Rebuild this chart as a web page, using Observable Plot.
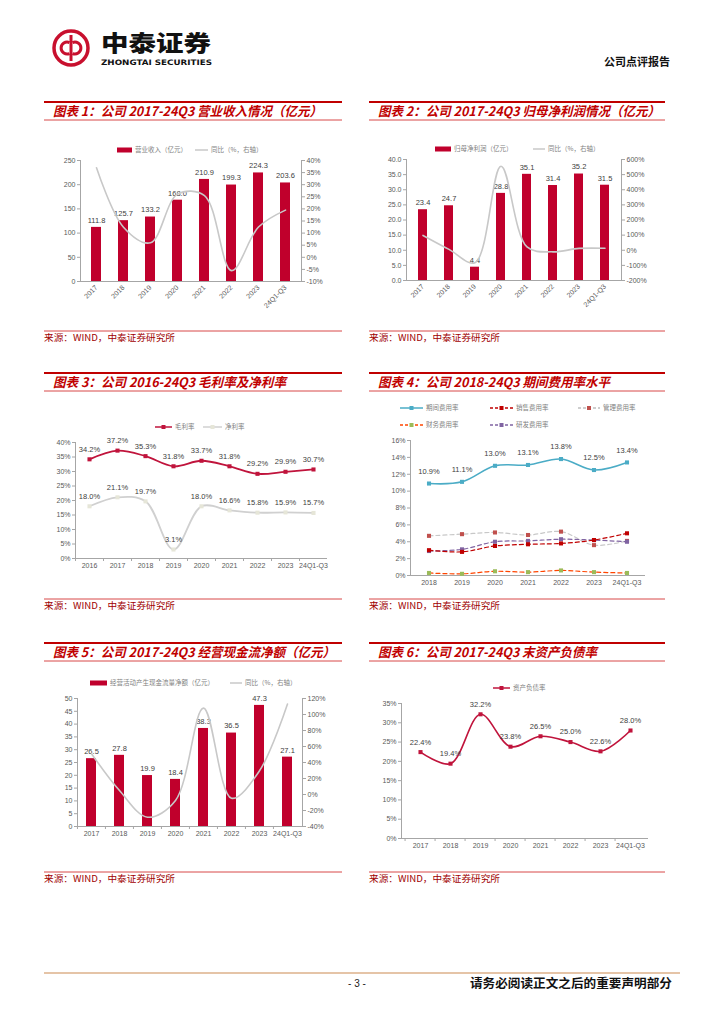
<!DOCTYPE html>
<html><head><meta charset="utf-8">
<script src="https://cdn.jsdelivr.net/npm/d3@7"></script>
<script src="https://cdn.jsdelivr.net/npm/@observablehq/plot@0.6"></script>
<style>
html,body{margin:0;padding:0;background:#fff}
#page{position:relative;width:724px;height:1024px;overflow:hidden;background:#fff}
#page > svg{position:absolute}
</style></head><body><div id="page"></div>
<script>
// ---------------- data ----------------
const years1 = ["2017","2018","2019","2020","2021","2022","2023","24Q1-Q3"];
const revenue = [111.8,125.7,133.2,168.0,210.9,199.3,224.3,203.6];
const revenueYoY = [37,12.4,6.0,26.1,25.5,-5.5,12.5,19.5];
const profit = [23.4,24.7,4.4,28.8,35.1,31.4,35.2,31.5];
const profitYoY = [98,5.6,-82,555,22,-10.5,12.1,13];
const years3 = ["2016","2017","2018","2019","2020","2021","2022","2023","24Q1-Q3"];
const grossMargin = [34.2,37.2,35.3,31.8,33.7,31.8,29.2,29.9,30.7];
const netMargin = [18.0,21.1,19.7,3.1,18.0,16.6,15.8,15.9,15.7];
const years4 = ["2018","2019","2020","2021","2022","2023","24Q1-Q3"];
const periodExp = [10.9,11.1,13.0,13.1,13.8,12.5,13.4];
const salesExp = [3.0,2.8,3.5,3.7,3.8,4.2,5.0];
const adminExp = [4.7,4.9,5.1,4.8,5.2,3.6,4.1];
const finExp = [0.3,0.2,0.5,0.4,0.6,0.4,0.3];
const rdExp = [2.9,3.1,4.0,4.1,4.3,4.2,4.0];
const cashFlow = [26.5,27.8,19.9,18.4,38.3,36.5,47.3,27.1];
const cashFlowYoY = [51,4.9,-28.4,-7.5,108,-4.7,29.6,113];
const debtRatio = [22.4,19.4,32.2,23.8,26.5,25.0,22.6,28.0];

const ticksRevenue = [0,50,100,150,200,250];
const ticksPctRevenue = [-10,-5,0,5,10,15,20,25,30,35,40];
const ticksProfit = [0,5,10,15,20,25,30,35,40];
const ticksPctProfit = [-200,-100,0,100,200,300,400,500,600];
const ticksMargin = [0,5,10,15,20,25,30,35,40];
const ticksExp = [0,2,4,6,8,10,12,14,16];
const ticksCash = [0,5,10,15,20,25,30,35,40,45,50];
const ticksPctCash = [-40,-20,0,20,40,60,80,100,120];
const ticksDebt = [0,5,10,15,20,25,30,35];

// ---------------- styles ----------------
const page = document.getElementById("page");
const CJK = "'Noto Sans CJK SC','Noto Sans',sans-serif";
const FONT = "'Liberation Sans',Arial,sans-serif";
const RED = "#c00000";
const BAR = "#c0002c";
const AX = "#a6a6a6";
const TXT = "#595959";
const LBL = "#404040";

// ---------------- static layer ----------------
const ns = "http://www.w3.org/2000/svg";
const bg = document.createElementNS(ns,"svg");
bg.setAttribute("width",724); bg.setAttribute("height",1024);
bg.style.left="0px"; bg.style.top="0px";
page.appendChild(bg);
function add(tag, attrs, text){
  const e=document.createElementNS(ns,tag);
  for (const k in attrs) e.setAttribute(k, attrs[k]);
  if (text!=null) e.textContent=text;
  bg.appendChild(e); return e;
}
// header logo
add("circle",{cx:71,cy:48,r:17,fill:"none",stroke:"#c8102e","stroke-width":3.5});
add("path",{d:"M71 35 V61",stroke:"#c8102e","stroke-width":3,fill:"none"});
add("path",{d:"M69.5 42.5 A6 6 0 1 0 69.5 53.5",fill:"none",stroke:"#c8102e","stroke-width":3});
add("path",{d:"M72.5 42.5 A6 6 0 1 1 72.5 53.5",fill:"none",stroke:"#c8102e","stroke-width":3});
add("text",{x:101,y:51,"font-family":CJK,"font-size":22,"font-weight":900,textLength:110,lengthAdjust:"spacingAndGlyphs",fill:"#111"},"中泰证券");
add("text",{x:101,y:65,"font-family":"'DejaVu Sans',sans-serif","font-size":7.5,"font-weight":"bold",textLength:111,lengthAdjust:"spacingAndGlyphs",fill:"#111"},"ZHONGTAI SECURITIES");
add("text",{x:670,y:66,"text-anchor":"end","font-family":CJK,"font-size":11,"font-weight":"bold",fill:"#111"},"公司点评报告");

// panel titles and sources
const titles = [
  {x:44,x2:342,y:102,text:"图表 1：公司 2017-24Q3 营业收入情况（亿元）",tl:269,src:331},
  {x:369,x2:665,y:102,text:"图表 2：公司 2017-24Q3 归母净利润情况（亿元）",tl:282,src:331},
  {x:44,x2:342,y:373,text:"图表 3：公司 2016-24Q3 毛利率及净利率",tl:233,src:599},
  {x:369,x2:665,y:373,text:"图表 4：公司 2018-24Q3 期间费用率水平",tl:232,src:599},
  {x:44,x2:342,y:643,text:"图表 5：公司 2017-24Q3 经营现金流净额（亿元）",tl:282,src:872},
  {x:369,x2:665,y:643,text:"图表 6：公司 2017-24Q3 末资产负债率",tl:219,src:872}
];
for (const t of titles){
  add("line",{x1:t.x,x2:t.x2,y1:t.y,y2:t.y,stroke:"#c00000","stroke-width":2});
  add("line",{x1:t.x,x2:t.x2,y1:t.y+18,y2:t.y+18,stroke:"#d84848","stroke-width":1});
  add("text",{x:t.x+9,y:t.y+13.5,"font-family":CJK,"font-size":13,"font-weight":"bold","font-style":"italic",fill:RED,textLength:t.tl,lengthAdjust:"spacingAndGlyphs"},t.text);
  add("line",{x1:t.x,x2:t.x2,y1:t.src,y2:t.src,stroke:"#d84848","stroke-width":1});
  add("text",{x:t.x,y:t.src+9.5,"font-family":CJK,"font-size":9,fill:"#a00000",textLength:131,lengthAdjust:"spacingAndGlyphs"},"来源：WIND，中泰证券研究所");
}
// footer
add("line",{x1:44,x2:680,y1:973,y2:973,stroke:"#dcb08a","stroke-width":1.5});
add("text",{x:357,y:987,"text-anchor":"middle","font-family":FONT,"font-size":10,fill:"#222"},"- 3 -");
add("text",{x:470,y:988,"font-family":CJK,"font-size":12,"font-weight":"bold",fill:"#111",textLength:202,lengthAdjust:"spacingAndGlyphs"},"请务必阅读正文之后的重要声明部分");

// legends
function legendItem({x,y,kind,color,dash,marker,text,len}){
  if (kind==="rect") add("rect",{x:x,y:y-2.5,width:len,height:5,fill:color});
  else {
    add("line",{x1:x,x2:x+len,y1:y,y2:y,stroke:color,"stroke-width":1.5,"stroke-dasharray":dash||"none"});
    if (marker) add("rect",{x:x+len/2-2,y:y-2,width:4,height:4,fill:marker});
  }
  add("text",{x:x+len+3,y:y+2.3,"font-family":CJK,"font-size":6.5,fill:"#7f7f7f"},text);
}
const legends = [
  {x:117,y:150,kind:"rect",color:BAR,len:15,text:"营业收入（亿元）"},
  {x:195,y:150,kind:"line",color:"#c8c8c8",len:13,text:"同比（%，右轴）"},
  {x:435,y:149,kind:"rect",color:BAR,len:16,text:"归母净利润（亿元）"},
  {x:533,y:149,kind:"line",color:"#c8c8c8",len:12,text:"同比（%，右轴）"},
  {x:155,y:427,kind:"line",color:"#c0143c",marker:"#c0143c",len:17,text:"毛利率"},
  {x:203,y:427,kind:"line",color:"#d0d0d0",marker:"#e6e6d8",len:19,text:"净利率"},
  {x:400,y:408,kind:"line",color:"#4bacc6",marker:"#4bacc6",len:23,text:"期间费用率"},
  {x:490,y:408,kind:"line",color:"#c00000",marker:"#c00000",dash:"3,2",len:23,text:"销售费用率"},
  {x:578,y:408,kind:"line",color:"#bfbfbf",marker:"#c0504d",dash:"3,2",len:22,text:"管理费用率"},
  {x:400,y:425,kind:"line",color:"#ff4500",marker:"#9bbb59",dash:"3,2",len:23,text:"财务费用率"},
  {x:490,y:425,kind:"line",color:"#8064a2",marker:"#8064a2",dash:"3,2",len:23,text:"研发费用率"},
  {x:90,y:683,kind:"rect",color:BAR,len:17,text:"经营活动产生现金流量净额（亿元）"},
  {x:230,y:683,kind:"line",color:"#c8c8c8",len:12,text:"同比（%，右轴）"},
  {x:493,y:688,kind:"line",color:"#c0143c",marker:"#c0143c",len:17,text:"资产负债率"}
];
legends.forEach(legendItem);

// ---------------- charts ----------------
function place(node,left,top){ node.style.position="absolute"; node.style.left=left+"px"; node.style.top=top+"px"; node.style.background="transparent"; node.style.overflow="visible"; page.appendChild(node); }
const baseStyle = {fontFamily:FONT,fontSize:"7px",color:TXT,background:"transparent",overflow:"visible"};

function dualChart(o){
  const rows = o.cats.map((c,i)=>({cat:c,v:o.bars[i],r:o.line[i]}));
  const xOpt = {domain:o.cats,type:"band",paddingInner:0.64,paddingOuter:0.32,label:null};
  const common = {width:o.width,height:o.height,marginTop:o.mt,marginRight:o.mr,marginBottom:o.mb,marginLeft:o.ml,style:baseStyle};
  const step = (o.width - o.ml - o.mr) / o.cats.length;
  const p1 = Plot.plot({...common,x:xOpt,y:{domain:o.yDomain,label:null},
    marks:[
      Plot.barY(rows,{x:"cat",y:"v",fill:BAR}),
      Plot.ruleY([o.yDomain[0]],{stroke:AX}),
      Plot.frame({anchor:"left",stroke:AX}),
      Plot.axisY({ticks:o.yTicks,tickSize:3,tickPadding:2,tickFormat:o.yFmt,stroke:AX,fill:TXT}),
      o.rotate ? Plot.axisX({tickSize:0,tickRotate:-45,tickPadding:5,fill:TXT})
               : Plot.axisX({tickSize:0,tickPadding:5,fill:TXT}),
      o.rotate ? null : Plot.axisX({tickSize:3,tickFormat:()=>"",stroke:AX,dx:-step/2}),
      Plot.text(rows,{x:"cat",y:"v",text:d=>d.v.toFixed(1),dy:-7,fill:LBL,fontSize:7.5})
    ]});
  const p2 = Plot.plot({...common,x:{...xOpt,axis:null},y:{domain:o.rDomain,label:null},
    marks:[
      Plot.frame({anchor:"right",stroke:AX}),
      Plot.axisY({anchor:"right",ticks:o.rTicks,tickSize:3,tickPadding:2,tickFormat:d=>d+"%",stroke:AX,fill:TXT}),
      Plot.lineY(rows,{x:"cat",y:"r",curve:"catmull-rom",stroke:"#c8c8c8",strokeWidth:1.6})
    ]});
  place(p1,o.left,o.top); place(p2,o.left,o.top);
}

function lineChart(o){
  const step = (o.width - o.ml - o.mr) / o.cats.length;
  const marks = [
    Plot.ruleY([o.yDomain[0]],{stroke:AX}),
    Plot.frame({anchor:"left",stroke:AX}),
    Plot.axisY({ticks:o.yTicks,tickSize:3,tickPadding:2,tickFormat:d=>d+"%",stroke:AX,fill:TXT}),
    Plot.axisX({tickSize:0,tickPadding:5,fill:TXT}),
    o.sepTicks ? Plot.axisX({tickSize:3,tickFormat:()=>"",stroke:AX,dx:-step/2}) : null
  ];
  for (const s of o.series){
    const rows = o.cats.map((c,i)=>({cat:c,v:s.values[i]}));
    marks.push(Plot.lineY(rows,{x:"cat",y:"v",curve:"catmull-rom",stroke:s.color,strokeWidth:s.w||1.6,strokeDasharray:s.dash}));
    marks.push(Plot.dot(rows,{x:"cat",y:"v",symbol:"square",r:2.3,fill:s.marker}));
    if (s.labels) marks.push(Plot.text(rows,{x:"cat",y:"v",text:d=>d.v.toFixed(1)+"%",dy:s.dy||-10,fill:LBL,fontSize:7.5}));
  }
  const p = Plot.plot({width:o.width,height:o.height,marginTop:o.mt,marginRight:o.mr,marginBottom:o.mb,marginLeft:o.ml,style:baseStyle,
    x:{domain:o.cats,type:"band",padding:0,label:null},y:{domain:o.yDomain,label:null},marks});
  place(p,o.left,o.top);
}

dualChart({left:44,top:150,width:300,height:185,ml:36,mr:43,mt:10,mb:54,cats:years1,bars:revenue,line:revenueYoY,
  yDomain:[0,250],yTicks:ticksRevenue,yFmt:d=>String(d),rDomain:[-10,40],rTicks:ticksPctRevenue,rotate:true});
dualChart({left:369,top:150,width:300,height:185,ml:37,mr:48,mt:9,mb:55,cats:years1,bars:profit,line:profitYoY,
  yDomain:[0,40],yTicks:ticksProfit,yFmt:d=>d.toFixed(1),rDomain:[-200,600],rTicks:ticksPctProfit,rotate:true});
dualChart({left:44,top:690,width:300,height:175,ml:33,mr:42,mt:8,mb:39,cats:years1,bars:cashFlow,line:cashFlowYoY,
  yDomain:[0,50],yTicks:ticksCash,yFmt:d=>String(d),rDomain:[-40,120],rTicks:ticksPctCash,rotate:false});

lineChart({left:44,top:435,width:300,height:145,ml:31,mr:17,mt:7,mb:22,cats:years3,yDomain:[0,40],yTicks:ticksMargin,sepTicks:true,
  series:[
    {values:grossMargin,color:"#c0143c",marker:"#c0143c",labels:true,w:1.8},
    {values:netMargin,color:"#d0d0d0",marker:"#e6e6d8",labels:true,w:1.8}
  ]});
lineChart({left:369,top:435,width:300,height:160,ml:41,mr:24,mt:5,mb:20,cats:years4,yDomain:[0,16],yTicks:ticksExp,
  series:[
    {values:adminExp,color:"#c8c8c8",marker:"#c0504d",dash:"4,3",w:1.2},
    {values:finExp,color:"#ff4500",marker:"#9bbb59",dash:"4,3",w:1.2},
    {values:rdExp,color:"#8064a2",marker:"#8064a2",dash:"4,3",w:1.2},
    {values:salesExp,color:"#c00000",marker:"#c00000",dash:"4,3",w:1.2},
    {values:periodExp,color:"#4bacc6",marker:"#4bacc6",labels:true,dy:-12}
  ]});
lineChart({left:369,top:695,width:300,height:165,ml:32,mr:21,mt:8,mb:22,cats:years1,yDomain:[0,35],yTicks:ticksDebt,sepTicks:true,
  series:[{values:debtRatio,color:"#c0143c",marker:"#c0143c",labels:true}]});
</script></body></html>
